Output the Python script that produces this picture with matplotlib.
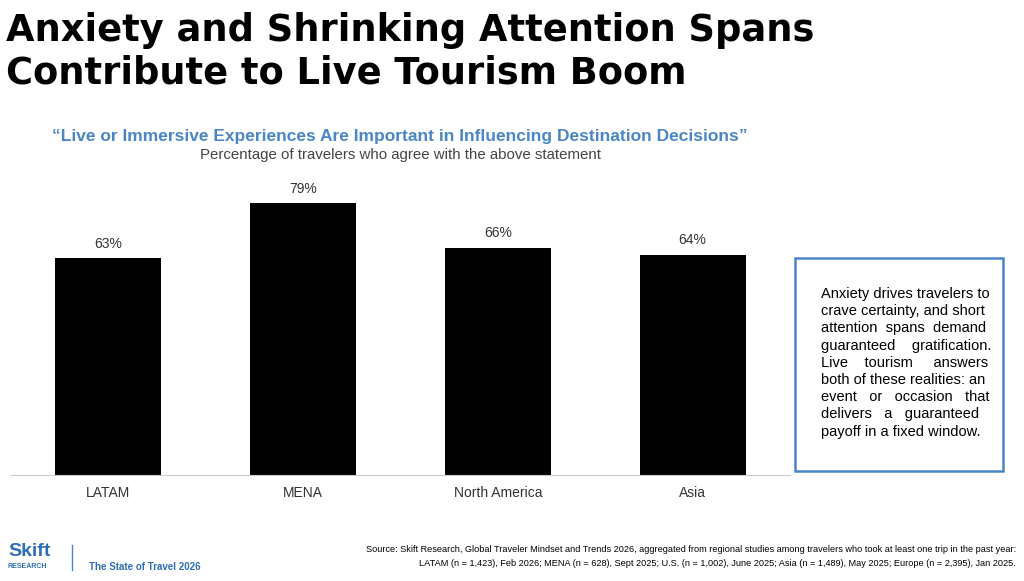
import matplotlib
matplotlib.use("Agg")
import matplotlib.pyplot as plt
from matplotlib.patches import Rectangle

regions = ["LATAM", "MENA", "North America", "Asia"]
values = [63, 79, 66, 64]

box_lines = [
    "Anxiety drives travelers to",
    "crave certainty, and short",
    "attention  spans  demand",
    "guaranteed    gratification.",
    "Live    tourism     answers",
    "both of these realities: an",
    "event   or   occasion   that",
    "delivers   a   guaranteed",
    "payoff in a fixed window.",
]

plt.rcParams['font.family'] = ['Liberation Sans', 'DejaVu Sans']

fig = plt.figure(figsize=(10.24, 5.81), dpi=100)
W, H = 1024, 581

# title
fig.text(6 / W, 1 - 12 / H, "Anxiety and Shrinking Attention Spans\nContribute to Live Tourism Boom",
         fontsize=26.5, fontweight='heavy', family='DejaVu Sans', va='top', ha='left', linespacing=1.2)

fig.text(400 / W, 1 - 137 / H,
         "\u201cLive or Immersive Experiences Are Important in Influencing Destination Decisions\u201d",
         fontsize=12.5, fontweight='bold', color='#4a86c5', ha='center', va='center')
fig.text(400 / W, 1 - 155 / H, "Percentage of travelers who agree with the above statement",
         fontsize=10.8, color='#444444', ha='center', va='center')

ax = fig.add_axes([11 / W, 106 / H, 779 / W, 305 / H])
x = range(len(regions))
ax.bar(x, values, width=0.545, color='black')
for xi, v in zip(x, values):
    ax.text(xi, v + 2.2, f"{v}%", ha='center', va='bottom', fontsize=10, color='#333333')
ax.set_xlim(-0.5, 3.5)
ax.set_ylim(0, 88.7)
ax.set_xticks(list(x))
ax.set_xticklabels(regions, fontsize=10, color='#333333')
ax.tick_params(axis='x', length=0, pad=8)
ax.set_yticks([])
for s in ['top', 'right', 'left']:
    ax.spines[s].set_visible(False)
ax.spines['bottom'].set_color('#cccccc')

# text box
fig.patches.append(Rectangle((795 / W, 1 - 471 / H), 208 / W, 213 / H, transform=fig.transFigure,
                             fill=False, edgecolor='#4a86c5', linewidth=1.8))
fig.text(821 / W, 1 - 287 / H, "\n".join(box_lines), fontsize=10.5, va='top', ha='left',
         linespacing=1.29, color='black')

# footer
fig.text(8 / W, 1 - 552 / H, "Skift", fontsize=14, fontweight='bold', color='#2f6db5', va='center')
fig.text(8 / W, 1 - 567 / H, "RESEARCH", fontsize=5, fontweight='bold', color='#2f6db5', va='center')
fig.lines.append(plt.Line2D([72 / W, 72 / W], [1 - 570 / H, 1 - 545 / H], transform=fig.transFigure,
                            color='#4a86c5', linewidth=1))
fig.text(89 / W, 1 - 567 / H, "The State of Travel 2026", fontsize=7, fontweight='bold',
         color='#2f6db5', va='center')
fig.text(1016 / W, 1 - 550 / H,
         "Source: Skift Research, Global Traveler Mindset and Trends 2026, aggregated from regional studies among travelers who took at least one trip in the past year:",
         fontsize=6.6, ha='right', va='center')
fig.text(1016 / W, 1 - 563 / H,
         "LATAM (n = 1,423), Feb 2026; MENA (n = 628), Sept 2025; U.S. (n = 1,002), June 2025; Asia (n = 1,489), May 2025; Europe (n = 2,395), Jan 2025.",
         fontsize=6.6, ha='right', va='center')

fig.savefig("out.png", dpi=100)
